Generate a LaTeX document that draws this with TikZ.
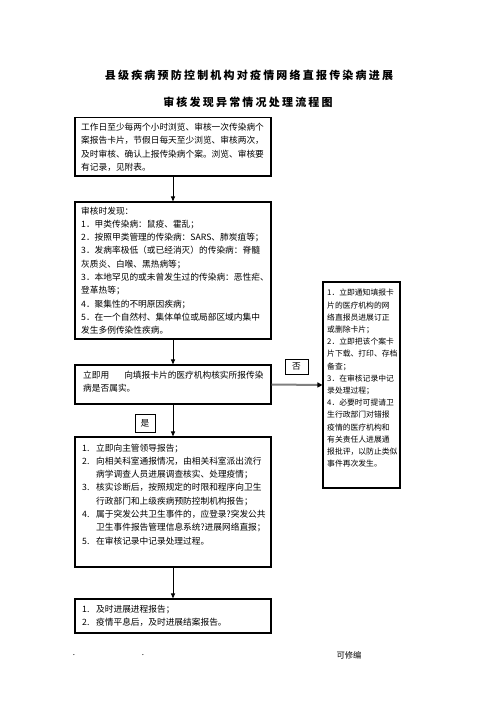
\documentclass[tikz,border=0pt]{standalone}
\usepackage{fontspec}
\setmainfont{Noto Sans CJK SC}
\newfontfamily\titlefont[LetterSpace=20]{Noto Sans CJK SC}
\usetikzlibrary{arrows.meta}
\XeTeXlinebreaklocale "zh"
\XeTeXlinebreakskip=0pt plus 3pt
\newcommand\itm[1]{\makebox[14pt][l]{#1}}
\newcommand\hang{\hspace*{14pt}}
\newcommand\jl[1]{\makebox[70pt][s]{#1}}

\begin{document}
\begin{tikzpicture}[x=1pt,y=-1pt,
  box/.style={draw, line width=1.1pt, inner sep=0pt, minimum width=196},
  tag/.style={draw, line width=0.8pt, inner sep=0pt, font=\fontsize{8.7}{10}\selectfont},
  txt/.style={anchor=north west, inner sep=0pt, align=left, font=\fontsize{8.7}{13.3}\selectfont},
  flow/.style={line width=0.9pt, -{Triangle[length=5pt,width=4pt]}}]
  \useasboundingbox (0,0) rectangle (496,702);

  % 标题
  \node[font=\titlefont\bfseries\fontsize{11}{13}\selectfont] (title1) at (249,75) {县级疾病预防控制机构对疫情网络直报传染病进展};
  \node[font=\titlefont\bfseries\fontsize{11}{13}\selectfont] (title2) at (248,102) {审核发现异常情况处理流程图};

  % 各个方框
  \node[box, minimum height=58.5] (watch) at (173,146.75) {};
  \node[box, minimum height=137] (audit) at (173,270.5) {};
  \node[box, minimum height=39] (verify) at (173,384.5) {};
  \node[box, minimum height=130] (report) at (173,502) {};
  \node[box, minimum height=34] (follow) at (173,616) {};
  \node[box, minimum width=77, minimum height=206] (correct) at (361.5,385) {};

  % 方框里的文字
  \node[txt] (watchtxt) at (81,123) {工作日至少每两个小时浏览、审核一次传染病个\\
    案报告卡片，节假日每天至少浏览、审核两次，\\
    及时审核、确认上报传染病个案。浏览、审核要\\
    有记录，见附表。};
  \node[txt] (audittxt) at (81,206.5) {审核时发现：\\
    1．甲类传染病：鼠疫、霍乱；\\
    2．按照甲类管理的传染病：SARS、肺炭疽等；\\
    3．发病率极低（或已经消灭）的传染病：脊髓\\
    灰质炎、白喉、黑热病等；\\
    3．本地罕见的或未曾发生过的传染病：恶性疟、\\
    登革热等；\\
    4．聚集性的不明原因疾病；\\
    5．在一个自然村、集体单位或局部区域内集中\\
    发生多例传染性疾病。};
  \node[txt] (verifytxt) at (83,370.5) {立即用\hspace{15pt}向填报卡片的医疗机构核实所报传染\\
    病是否属实。};
  \node[txt] (reporttxt) at (82,443.5) {\itm{1.}立即向主管领导报告；\\
    \itm{2.}向相关科室通报情况，由相关科室派出流行\\
    \hang 病学调查人员进展调查核实、处理疫情；\\
    \itm{3.}核实诊断后，按照规定的时限和程序向卫生\\
    \hang 行政部门和上级疾病预防控制机构报告；\\
    \itm{4.}属于突发公共卫生事件的，应登录?突发公共\\
    \hang 卫生事件报告管理信息系统?进展网络直报；\\
    \itm{5.}在审核记录中记录处理过程。};
  \node[txt] (followtxt) at (82,604.5) {\itm{1.}及时进展进程报告；\\
    \itm{2.}疫情平息后，及时进展结案报告。};
  \node[txt, font=\fontsize{7.8}{12.2}\selectfont] (correcttxt) at (327,289) {\jl{1．立即通知填报卡}\\
    \jl{片的医疗机构的网}\\
    \jl{络直报员进展订正}\\
    或删除卡片；\\
    \jl{2．立即把该个案卡}\\
    \jl{片下载、打印、存档}\\
    备查；\\
    \jl{3．在审核记录中记}\\
    录处理过程；\\
    \jl{4．必要时可提请卫}\\
    \jl{生行政部门对错报}\\
    \jl{疫情的医疗机构和}\\
    \jl{有关责任人进展通}\\
    \jl{报批评，以防止类似}\\
    事件再次发生。};

  % 是 / 否
  \node[tag, minimum width=23, minimum height=15] (no) at (296.5,366.5) {否};
  \node[tag, minimum width=20, minimum height=18] (yes) at (145,423) {是};

  % 箭头
  \draw[flow] (watch.south) -- (audit.north);
  \draw[flow] (audit.south) -- (verify.north);
  \draw[flow] (verify.south) -- (report.north);
  \draw[flow] (report.south) -- (follow.north);
  \draw[line width=2pt, black!50, -{Triangle[length=5pt,width=5pt,color=black]}] (verify.east) -- (correct.west);

  % 页脚
  \node[font=\fontsize{8}{10}\selectfont] (dot1) at (74,655) {.};
  \node[font=\fontsize{8}{10}\selectfont] (dot2) at (143,655) {.};
  \node[font=\fontsize{8.3}{10}\selectfont] (foot) at (349,655) {可修编};
\end{tikzpicture}
\end{document}
